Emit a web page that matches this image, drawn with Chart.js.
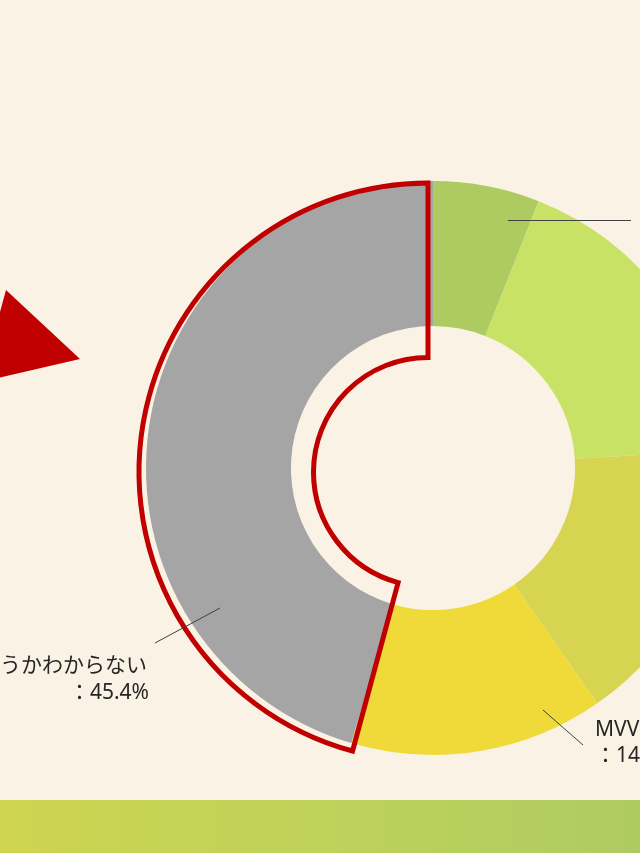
<!DOCTYPE html>
<html>
<head>
<meta charset="utf-8">
<script src="https://cdn.jsdelivr.net/npm/chart.js@4"></script>
<style>
  html, body { margin: 0; padding: 0; overflow: hidden; background: #FAF2E4; }
  #wrap { width: 800px; height: 853px; }
</style>
</head>
<body>
<div id="wrap"><canvas id="donut" width="800" height="853"></canvas></div>
<script>
// data (percent)
var categories = ["MVVが浸透している", "ある程度浸透している", "あまり浸透していない", "MVVを知らない", "浸透しているかどうかわからない"];
var values = [6.0, 18.0, 16.3, 14.3, 45.4];
var colors = ["#AECB62", "#C8E266", "#D6D450", "#EFDA3A", "#A5A5A5"];

var FONT = '"Noto Sans", "Noto Sans CJK JP", sans-serif';

// background + bottom band
var backdrop = {
  id: 'backdrop',
  beforeDraw: function (chart) {
    var ctx = chart.ctx;
    ctx.save();
    ctx.fillStyle = '#FAF2E4';
    ctx.fillRect(0, 0, chart.width, chart.height);
    var g = ctx.createLinearGradient(0, 0, 640, 0);
    g.addColorStop(0, '#CED450');
    g.addColorStop(0.5, '#BFD25A');
    g.addColorStop(1, '#AECB62');
    ctx.fillStyle = g;
    ctx.fillRect(0, 800, chart.width, 53);
    ctx.restore();
  }
};

// red outline around the gray slice, triangle, leader lines, labels
var marks = {
  id: 'marks',
  afterDraw: function (chart) {
    var ctx = chart.ctx;
    var arcs = chart.getDatasetMeta(0).data;
    var gray = arcs[4];
    var cx = gray.x, cy = gray.y, R = gray.outerRadius;
    ctx.save();

    // outline
    ctx.strokeStyle = '#C00000';
    ctx.lineWidth = 5;
    ctx.lineJoin = 'miter';
    var a0 = gray.startAngle - 0.025, a1 = gray.endAngle;
    ctx.beginPath();
    ctx.arc(cx - 5, cy + 4, R + 2, a0, a1);
    ctx.arc(cx - 5, cy + 4, R * 0.399, a1, a0, true);
    ctx.closePath();
    ctx.stroke();

    // triangle
    ctx.fillStyle = '#C00000';
    ctx.beginPath();
    ctx.moveTo(6, 290);
    ctx.lineTo(80, 359);
    ctx.lineTo(-19, 382);
    ctx.closePath();
    ctx.fill();

    // leader lines
    ctx.strokeStyle = '#404040';
    ctx.lineWidth = 1;
    ctx.beginPath();
    ctx.moveTo(508, 220.5); ctx.lineTo(631, 220.5);
    ctx.moveTo(155, 643); ctx.lineTo(220, 608);
    ctx.moveTo(543, 710); ctx.lineTo(583, 745);
    ctx.stroke();

    // labels
    ctx.fillStyle = '#262626';
    ctx.font = '21px ' + FONT;
    ctx.textBaseline = 'middle';
    ctx.textAlign = 'right';
    ctx.fillText(categories[4], 147, 666);
    ctx.fillText('：' + values[4].toFixed(1) + '%', 149, 693);
    ctx.textAlign = 'left';
    ctx.fillText(categories[3], 595, 730);
    ctx.fillText('：' + values[3].toFixed(1) + '%', 595, 756);
    ctx.restore();
  }
};

new Chart(document.getElementById('donut'), {
  type: 'doughnut',
  data: {
    labels: categories,
    datasets: [{
      data: values,
      backgroundColor: colors,
      borderWidth: 0
    }]
  },
  options: {
    responsive: false,
    animation: false,
    cutout: '49.5%',
    layout: { padding: { left: 146, right: 80, top: 181, bottom: 98 } },
    plugins: {
      legend: { display: false },
      tooltip: { enabled: false }
    }
  },
  plugins: [backdrop, marks]
});
</script>
</body>
</html>
